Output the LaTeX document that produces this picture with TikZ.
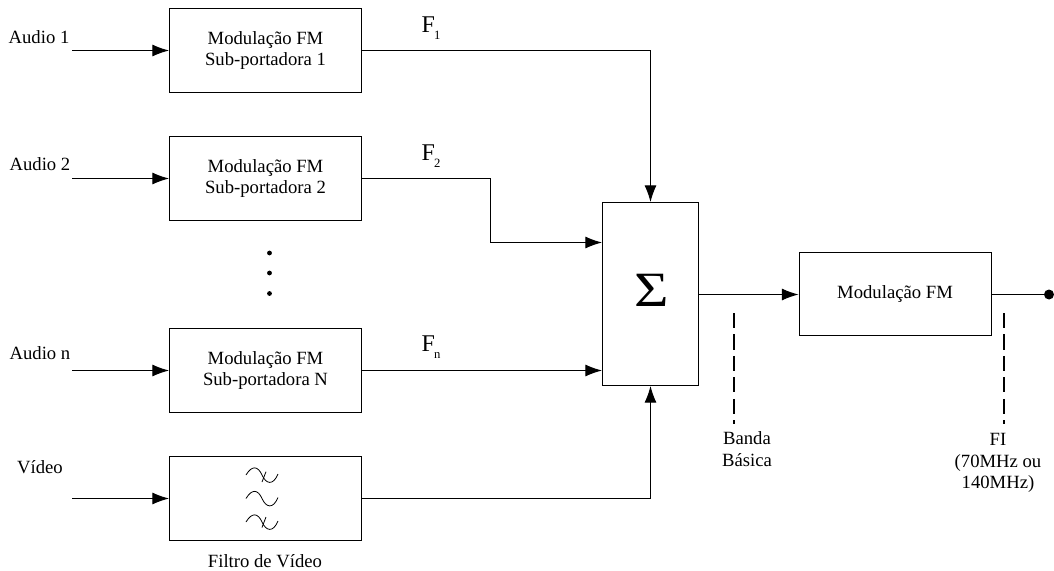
\documentclass[tikz,border=0pt]{standalone}
\usepackage{fontspec}
\usepackage{graphicx}
\setmainfont{Liberation Serif}
\usetikzlibrary{arrows.meta}
\newcommand{\bodyfont}{\fontsize{14}{16.3}\selectfont}
\newcommand{\freqlabel}[1]{\fontsize{18}{18}\selectfont F\kern-0.5pt\raisebox{-5.5pt}{\fontsize{9.5}{9.5}\selectfont #1}}
\begin{document}
\begin{tikzpicture}[auto, x=0.75pt, y=-0.75pt, >={Latex[length=12.5pt,width=9pt]}, line width=0.75pt,
    font=\bodyfont,
    modbox/.style={draw, rectangle, minimum width=144pt, minimum height=62.5pt, align=center, inner sep=0pt},
    caption/.style={inner sep=0pt, align=center},
    freq/.style={inner sep=0pt, anchor=base west},
    dot/.style={circle, fill=black, inner sep=0pt, minimum size=#1},
    cutline/.style={line width=1.2pt, dash pattern=on 11.3pt off 4.8pt},
    wave/.style={line width=0.6pt}]
    \useasboundingbox (0,0) rectangle (1054,571);

    % Nodes
    \node [modbox] (mod_1) at (265.5,50.5) {Modulação FM\\Sub-portadora 1};
    \node [modbox, below of=mod_1, node distance=96pt] (mod_2) {Modulação FM\\Sub-portadora 2};
    \node [modbox, below of=mod_2, node distance=144pt] (mod_n) {Modulação FM\\Sub-portadora N};
    \node [modbox, below of=mod_n, node distance=96pt] (filter) {};
    \node [draw, rectangle, minimum width=72pt, minimum height=137.25pt, inner sep=0pt] (sum) at (650.5,294) {};
    \node (sigma) at (651.5,290) {\fontsize{37}{37}\selectfont\scalebox{1.2}[1]{Σ}};
    \node [modbox, right of=sum, node distance=183.4pt] (mod_out) {Modulação FM};
    \node [dot=7.5pt] (out) at (1049,294.5) {};

    % Labels
    \node [caption] (audio_1) at (39,37) {Audio 1};
    \node [caption] (audio_2) at (40,164) {Audio 2};
    \node [caption] (audio_n) at (40,353) {Audio n};
    \node [caption] (video) at (40,467) {Vídeo};
    \node [freq] (f_1) at (421,32) {\freqlabel{1}};
    \node [freq] (f_2) at (421,160) {\freqlabel{2}};
    \node [freq] (f_n) at (421,351.5) {\freqlabel{n}};
    \node [caption] (filter_name) at (265,561) {Filtro de Vídeo};
    \node [caption] (baseband) at (747,449) {Banda\\Básica};
    \node [caption] (if_band) at (998,463) {FI\\(70MHz ou\\140MHz)};

    % Dots
    \node [dot=3.6pt] (dot_1) at (269.5,253) {};
    \node [dot=3.6pt] (dot_2) at (269.5,273) {};
    \node [dot=3.6pt] (dot_3) at (269.5,293.5) {};

    % Free ends
    \coordinate (in_1) at (72,50.5);
    \coordinate (in_2) at (72,178.5);
    \coordinate (in_n) at (72,370.5);
    \coordinate (in_v) at (72,498.5);
    \coordinate (turn_2) at (490.5,242.5);
    \coordinate (cut_b1) at (733.7,313);
    \coordinate (cut_b2) at (733.7,423.5);
    \coordinate (cut_i1) at (1004,313);
    \coordinate (cut_i2) at (1004,423.5);

    % Arrows
    \draw[->] (in_1) -- (mod_1);
    \draw[->] (in_2) -- (mod_2);
    \draw[->] (in_n) -- (mod_n);
    \draw[->] (in_v) -- (filter);
    \draw[->] (mod_1) -| (sum);
    \draw[->] (mod_2) -| (turn_2) -- (sum.west |- turn_2);
    \draw[->] (mod_n) -- (sum.west |- mod_n);
    \draw[->] (filter) -| (sum);
    \draw[->] (sum.east |- out) -- (mod_out.west |- out);
    \draw[line width=1.4pt] (mod_out.east |- out) -- (out);
    \draw[cutline] (cut_b1) -- (cut_b2);
    \draw[cutline] (cut_i1) -- (cut_i2);

    % Filter symbols
    \foreach \y in {475,498.5,522} {
        \draw[wave] (246,\y) .. controls (252,\y-10) and (258,\y-9) .. (262,\y) .. controls (266,\y+9) and (273,\y+11) .. (278,\y-1);
    }
    \draw[wave] (262,482) -- (266,471.7);
    \draw[wave] (262,527.5) -- (266,517);
\end{tikzpicture}
\end{document}
